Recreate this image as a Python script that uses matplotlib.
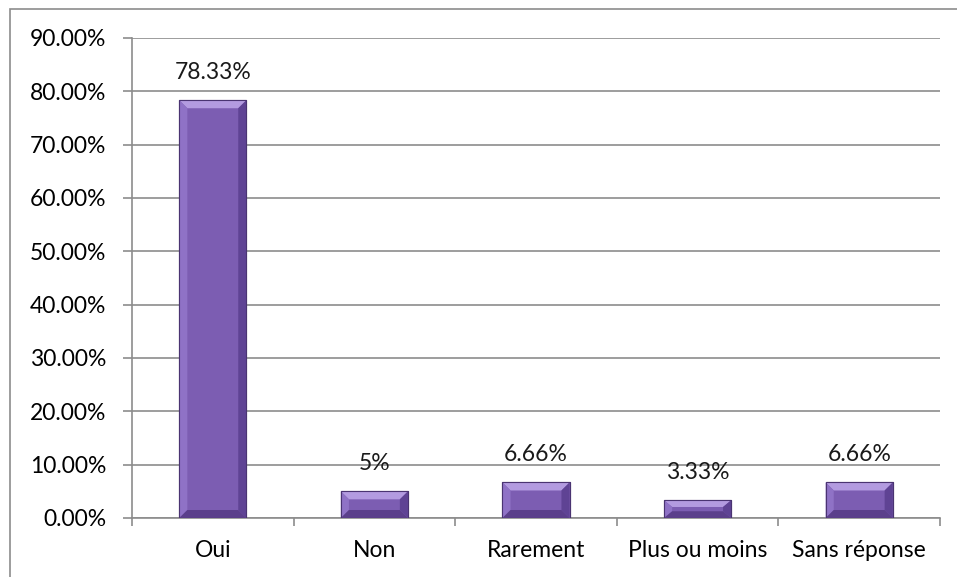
import matplotlib
matplotlib.use("Agg")
import matplotlib.pyplot as plt
from matplotlib.patches import Polygon, Rectangle
from matplotlib.ticker import FixedLocator

categories = ["Oui", "Non", "Rarement", "Plus ou moins", "Sans réponse"]
values = [78.33, 5, 6.66, 3.33, 6.66]
labels = ["78.33%", "5%", "6.66%", "3.33%", "6.66%"]
yticks = [0, 10, 20, 30, 40, 50, 60, 70, 80, 90]

plt.rcParams['font.family'] = ['Lato', 'DejaVu Sans']
FS = 16.5

W, H = 957, 577
fig = plt.figure(figsize=(W / 100, H / 100), dpi=100)
fig.patches.append(Rectangle((10 / W, -0.1), 1.2, 1 - 9 / H + 0.1,
                             transform=fig.transFigure, fill=False,
                             edgecolor='#8c8c8c', linewidth=1.2))
ax = fig.add_axes([132 / W, 1 - 518 / H, 808 / W, 480 / H])

x = list(range(len(categories)))
bw = 0.415
ax.bar(x, values, width=bw, color='#7c5db2', edgecolor='#4a3472',
       linewidth=0.8, zorder=3)

# bevel effect built from the bar geometry
px_per_unit = 480 / 90.0
for xi, v in zip(x, values):
    x0, x1 = xi - bw / 2, xi + bw / 2
    bx = 0.05
    by = min(8 / px_per_unit, v * 0.38)
    faces = [
        ([(x0, v), (x1, v), (x1 - bx, v - by), (x0 + bx, v - by)], '#b39be0'),
        ([(x0, 0), (x0, v), (x0 + bx, v - by), (x0 + bx, by)], '#8f72c6'),
        ([(x1, 0), (x1, v), (x1 - bx, v - by), (x1 - bx, by)], '#5f4394'),
        ([(x0, 0), (x1, 0), (x1 - bx, by), (x0 + bx, by)], '#5b3f8b'),
    ]
    for pts, c in faces:
        ax.add_patch(Polygon(pts, closed=True, facecolor=c, edgecolor='none',
                             zorder=4))
    ax.add_patch(Rectangle((x0, 0), bw, v, fill=False, edgecolor='#4a3472',
                           linewidth=0.8, zorder=5))
    ax.annotate(labels[xi], (xi, v), xytext=(0, 20), textcoords='offset points',
                ha='center', va='center', fontsize=FS, color='#1a1a1a')

ax.set_xlim(-0.5, len(categories) - 0.5)
ax.set_ylim(0, 90)
ax.set_yticks(yticks)
ax.set_yticklabels([f"{t:.2f}%" for t in yticks], fontsize=FS)
ax.yaxis.grid(True, color='#8c8c8c', linewidth=1.2, zorder=0)
ax.set_axisbelow(True)

ax.set_xticks(x)
ax.set_xticklabels(categories, fontsize=FS)
ax.xaxis.set_minor_locator(FixedLocator([i - 0.5 for i in range(len(categories) + 1)]))
ax.tick_params(axis='x', which='major', length=0, pad=16)
ax.tick_params(axis='x', which='minor', length=6, color='#8c8c8c', width=1.2)
ax.tick_params(axis='y', length=6.5, color='#8c8c8c', width=1.2, pad=12)

for s in ['top', 'right']:
    ax.spines[s].set_visible(False)
for s in ['left', 'bottom']:
    ax.spines[s].set_color('#8c8c8c')
    ax.spines[s].set_linewidth(1.2)

fig.savefig("out.png", dpi=100)
